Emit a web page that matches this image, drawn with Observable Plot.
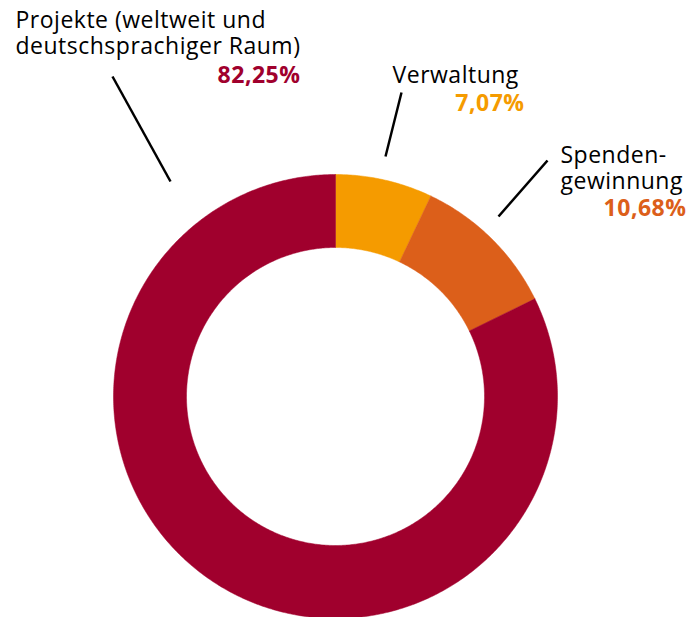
<!DOCTYPE html>
<html>
<head>
<meta charset="utf-8">
<script src="https://cdn.jsdelivr.net/npm/d3@7"></script>
<script src="https://cdn.jsdelivr.net/npm/@observablehq/plot@0.6"></script>
<style>
  html, body { margin: 0; padding: 0; background: #fff; }
  #chart svg { display: block; }
  #chart text { letter-spacing: 0.5px; }
</style>
</head>
<body>
<div id="chart"></div>
<script>
// ---- data ----
const categories = ["Verwaltung", "Spendengewinnung", "Projekte"];
const shares = [7.07, 10.68, 82.25];
const valueLabels = ["7,07%", "10,68%", "82,25%"];
const nameLabels = ["Verwaltung", "Spenden-\ngewinnung", "Projekte (weltweit und\ndeutschsprachiger Raum)"];
const colors = ["#F59B00", "#DC5F1A", "#A0002D"];

// ---- layout ----
const W = 699, H = 617;
const cx = 335, cy = 396, R = 222, r = 149;
const font = "'Open Sans', 'Noto Sans', sans-serif";
const FS = 23;
// label layout: name (left aligned, y = last baseline), value right-aligned
const labelLayout = [
  {nameX: 392, nameY: 82, valX: 524, valY: 110, line: [[401, 92], [385, 156]]},
  {nameX: 560, nameY: 188, valX: 686, valY: 215, line: [[547, 160], [498, 216]]},
  {nameX: 15, nameY: 53, valX: 300, valY: 82, line: [[112, 76], [170, 181]]}
];

const pie = d3.pie().sort(null).value(d => d)(shares);

// polygon points for each ring slice, derived from the pie angles
const ringPts = [];
pie.forEach((p, i) => {
  const n = Math.max(8, Math.ceil((p.endAngle - p.startAngle) / (Math.PI / 360)));
  const pts = [];
  for (let k = 0; k <= n; k++) {
    const a = p.startAngle + (p.endAngle - p.startAngle) * k / n;
    pts.push({x: cx + R * Math.sin(a), y: cy - R * Math.cos(a)});
  }
  for (let k = n; k >= 0; k--) {
    const a = p.startAngle + (p.endAngle - p.startAngle) * k / n;
    pts.push({x: cx + r * Math.sin(a), y: cy - r * Math.cos(a)});
  }
  pts.push(pts[0]);
  pts.forEach(q => ringPts.push({...q, cat: categories[i]}));
});

const nameRows = [];
const valueRows = [];
const lineRows = [];
categories.forEach((c, i) => {
  const L = labelLayout[i];
  nameRows.push({text: nameLabels[i], x: L.nameX, y: L.nameY});
  valueRows.push({text: valueLabels[i], x: L.valX, y: L.valY, color: colors[i]});
  lineRows.push({x1: L.line[0][0], y1: L.line[0][1], x2: L.line[1][0], y2: L.line[1][1]});
});

const chart = Plot.plot({
  width: W, height: H,
  margin: 0,
  style: {background: "#fff", fontFamily: font},
  x: {domain: [0, W], range: [0, W], axis: null},
  y: {domain: [0, H], range: [0, H], axis: null},
  color: {domain: categories, range: colors},
  marks: [
    Plot.line(ringPts, {x: "x", y: "y", z: "cat", fill: "cat", stroke: "cat", strokeWidth: 0.5, curve: "linear"}),
    Plot.link(lineRows, {x1: "x1", y1: "y1", x2: "x2", y2: "y2", stroke: "#000", strokeWidth: 2.5}),
    Plot.text(nameRows, {x: "x", y: "y", text: "text", textAnchor: "start", lineAnchor: "bottom", lineHeight: 26 / FS, fontSize: FS, fill: "#000", fontFamily: font}),
    Plot.text(valueRows, {x: "x", y: "y", text: "text", textAnchor: "end", lineAnchor: "bottom", fontSize: FS, fontWeight: "bold", fill: d => d.color, fontFamily: font})
  ]
});
document.getElementById("chart").appendChild(chart);
</script>
</body>
</html>
